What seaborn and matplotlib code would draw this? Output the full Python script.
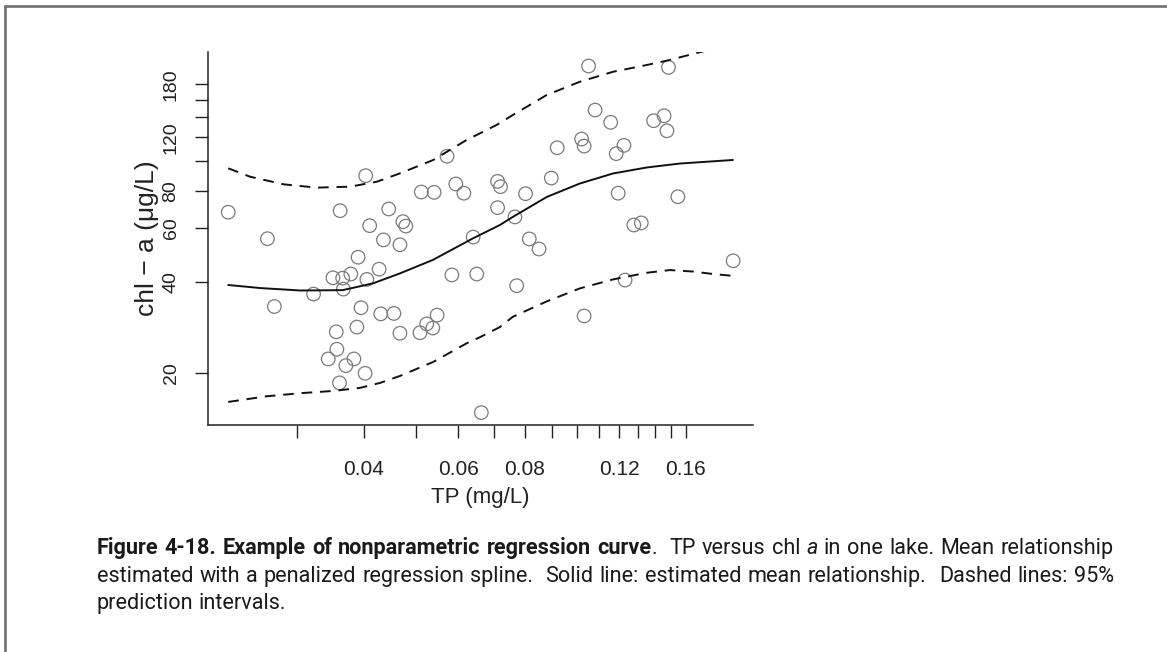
import numpy as np
import pandas as pd
import matplotlib
matplotlib.use("Agg")
import matplotlib.pyplot as plt
import seaborn as sns
from matplotlib.lines import Line2D
from matplotlib.ticker import FixedLocator, FixedFormatter, NullLocator
from matplotlib.transforms import IdentityTransform

# ---------------- data ----------------
tp = [0.0223, 0.0264, 0.0272, 0.0322, 0.0343, 0.0350, 0.0355, 0.0356, 0.0360, 0.0361,
      0.0365, 0.0366, 0.0370, 0.0378, 0.0383, 0.0388, 0.0390, 0.0395, 0.0402, 0.0403,
      0.0405, 0.0410, 0.0427, 0.0430, 0.0435, 0.0445, 0.0455, 0.0467, 0.0467, 0.0473,
      0.0479, 0.0509, 0.0512, 0.0524, 0.0538, 0.0541, 0.0548, 0.0572, 0.0584, 0.0594,
      0.0615, 0.0640, 0.0650, 0.0663, 0.0711, 0.0720, 0.0711, 0.0766, 0.0772, 0.0802,
      0.0815, 0.0850, 0.0896, 0.0919, 0.1021, 0.1032, 0.1032, 0.1052, 0.1082, 0.1157,
      0.1185, 0.1195, 0.1225, 0.1231, 0.1278, 0.1320, 0.1392, 0.1456, 0.1474, 0.1484,
      0.1545, 0.1960]
chl = [67.9, 55.5, 33.1, 36.4, 22.2, 41.2, 27.3, 23.9, 18.5, 68.7,
       41.1, 37.8, 21.1, 42.4, 22.2, 28.3, 48.2, 32.8, 19.9, 89.7,
       40.7, 61.3, 44.0, 31.3, 55.0, 69.6, 31.4, 53.0, 27.0, 63.2,
       61.1, 27.1, 79.2, 29.0, 28.1, 79.0, 31.0, 104.0, 42.1, 84.2,
       78.5, 56.2, 42.4, 14.75, 85.9, 82.5, 70.3, 65.5, 38.8, 78.2,
       55.4, 51.3, 88.1, 111.0, 118.6, 112.4, 30.8, 206.9, 147.9, 134.7,
       106.1, 78.5, 113.0, 40.5, 61.6, 62.6, 136.4, 141.6, 126.3, 204.8,
       76.4, 46.9]

mean_tp = [0.0223, 0.0256, 0.0304, 0.0365, 0.0416, 0.0467, 0.0538, 0.0639, 0.0718,
           0.0759, 0.0879, 0.1013, 0.1168, 0.1352, 0.1558, 0.1958]
mean_chl = [39.0, 38.1, 37.4, 37.5, 39.5, 42.6, 47.2, 55.6, 61.6,
            65.5, 76.3, 84.5, 91.2, 95.5, 98.4, 101.1]

upper_tp = [0.0223, 0.0245, 0.0283, 0.0326, 0.0377, 0.0423, 0.0467, 0.0539, 0.0622,
            0.0708, 0.0759, 0.0878, 0.1013, 0.1169, 0.1350, 0.1472, 0.1711, 0.1958]
upper_chl = [94.9, 89.0, 84.0, 81.9, 82.5, 85.7, 91.3, 101.1, 117.7,
             132.0, 142.4, 165.8, 183.5, 198.0, 208.4, 215.4, 230.6, 245.0]

lower_tp = [0.0223, 0.0263, 0.0304, 0.0351, 0.0393, 0.0429, 0.0467, 0.0539, 0.0622,
            0.0659, 0.0718, 0.0759, 0.0878, 0.1013, 0.1169, 0.1350, 0.1493, 0.1651,
            0.1799, 0.1960]
lower_chl = [16.0, 16.7, 17.1, 17.4, 17.8, 18.5, 19.5, 21.7, 25.0,
             26.2, 28.3, 30.6, 34.4, 38.0, 40.7, 42.8, 43.7, 43.2,
             42.4, 41.8]

x_ticks = [0.03, 0.04, 0.05, 0.06, 0.07, 0.08, 0.09, 0.10, 0.11, 0.12, 0.13, 0.14, 0.15, 0.16]
x_tick_labels = ["", "0.04", "", "0.06", "", "0.08", "", "", "", "0.12", "", "", "", "0.16"]
y_ticks = [20, 40, 60, 80, 100, 120, 140, 160, 180]
y_tick_labels = ["20", "40", "60", "80", "", "120", "", "", "180"]

x_label = "TP (mg/L)"
y_label = "chl \u2212 a (\u03bcg/L)"

caption_lines = [
    [("Figure 4-18. Example of nonparametric regression curve", "bold", "normal"),
     (".  TP versus chl", "normal", "normal"),
     (" a", "normal", "italic"),
     (" in one lake. Mean relationship", "normal", "normal")],
    [("estimated with a penalized regression spline.  Solid line: estimated mean relationship.  Dashed lines: 95%",
      "normal", "normal")],
    [("prediction intervals.", "normal", "normal")],
]
caption_justified = [True, True, False]

# ---------------- figure ----------------
sns.set_style("white")
plt.rcParams["font.family"] = ["Liberation Sans", "DejaVu Sans"]

W, H = 1167, 652
fig = plt.figure(figsize=(W / 100, H / 100), dpi=100)
ax = fig.add_axes([208 / W, 1 - 425 / H, (753 - 208) / W, (425 - 52) / H])

pts = pd.DataFrame({"tp": tp, "chl": chl})
sns.scatterplot(data=pts, x="tp", y="chl", ax=ax, marker="o", s=95,
                facecolor="none", edgecolor="#7a7a7a", linewidth=0.9, zorder=3)

mean_df = pd.DataFrame({"tp": mean_tp, "chl": mean_chl})
up_df = pd.DataFrame({"tp": upper_tp, "chl": upper_chl})
lo_df = pd.DataFrame({"tp": lower_tp, "chl": lower_chl})
sns.lineplot(data=mean_df, x="tp", y="chl", ax=ax, color="#111111", lw=1.4,
             sort=False, estimator=None, zorder=4)
for d in (up_df, lo_df):
    sns.lineplot(data=d, x="tp", y="chl", ax=ax, color="#111111", lw=1.4,
                 sort=False, estimator=None, linestyle=(0, (5.5, 4.0)), zorder=4)

ax.set_xscale("log")
ax.set_yscale("log")
ax.set_xlim(0.02044, 0.2135)
ax.set_ylim(13.42, 230.2)

ax.xaxis.set_major_locator(FixedLocator(x_ticks))
ax.xaxis.set_major_formatter(FixedFormatter(x_tick_labels))
ax.xaxis.set_minor_locator(NullLocator())
ax.yaxis.set_major_locator(FixedLocator(y_ticks))
ax.yaxis.set_major_formatter(FixedFormatter(y_tick_labels))
ax.yaxis.set_minor_locator(NullLocator())

for s in ("top", "right"):
    ax.spines[s].set_visible(False)
for s in ("left", "bottom"):
    ax.spines[s].set_color("#222222")
    ax.spines[s].set_linewidth(1.1)

ax.tick_params(axis="both", which="major", direction="out", length=9.5, width=1.0,
               color="#222222", labelcolor="#222222", bottom=True, left=True)
ax.tick_params(axis="x", pad=15.5, labelsize=15)
ax.tick_params(axis="y", pad=11.0, labelsize=14, labelrotation=90)
for lab in ax.get_yticklabels():
    lab.set_verticalalignment("center")

ax.set_xlabel(x_label, fontsize=16, color="#222222")
ax.set_ylabel(y_label, fontsize=19, color="#222222")
ax.xaxis.set_label_coords(0.5, -0.166)
ax.yaxis.set_label_coords(-0.090, 0.5)

# ---------------- caption (justified paragraph) ----------------
cap_font = ["Roboto", "DejaVu Sans"]
renderer = fig.canvas.get_renderer()


def text_width(s, size, weight="normal", style="normal"):
    t = fig.text(0, 0, s, fontsize=size, fontweight=weight, fontstyle=style,
                 family=cap_font, transform=IdentityTransform())
    w = t.get_window_extent(renderer).width
    t.remove()
    return w


def tokens(pieces):
    out, pending = [], 0
    for txt, weight, style in pieces:
        for i, part in enumerate(txt.split(" ")):
            if i > 0:
                pending += 1
            if part:
                out.append((part, weight, style, pending))
                pending = 0
    return out


left_x, right_x = 97, 1114
base = 12.0
line2 = caption_lines[1][0][0]
cap_size = base * 1000.0 / text_width(line2, base)
space_w = text_width("a a", cap_size) - text_width("aa", cap_size)


def place(pieces, y0, size, justify):
    toks = tokens(pieces)
    widths = [text_width(w, size, wt, st) for w, wt, st, _ in toks]
    n_sp = sum(t[3] for t in toks)
    natural = sum(widths) + n_sp * space_w
    sp = space_w
    if justify and n_sp > 0:
        sp = space_w + (right_x - left_x - natural) / n_sp
    x = left_x
    for (wd, wt, st, nb), w in zip(toks, widths):
        x += nb * sp
        fig.text(x, y0, wd, fontsize=size, fontweight=wt, fontstyle=st,
                 family=cap_font, transform=IdentityTransform(),
                 va="baseline", ha="left", color="#1a1a1a")
        x += w


baselines = [H - 554, H - 582, H - 609]
for pieces, yb, just in zip(caption_lines, baselines, caption_justified):
    place(pieces, yb, cap_size, just)

# ---------------- page border ----------------
fig.add_artist(Line2D([5, 5], [0, H - 6], transform=IdentityTransform(),
                      color="#707070", lw=1.9))
fig.add_artist(Line2D([5, W], [H - 6, H - 6], transform=IdentityTransform(),
                      color="#707070", lw=1.9))

fig.savefig("out.png", dpi=100)
